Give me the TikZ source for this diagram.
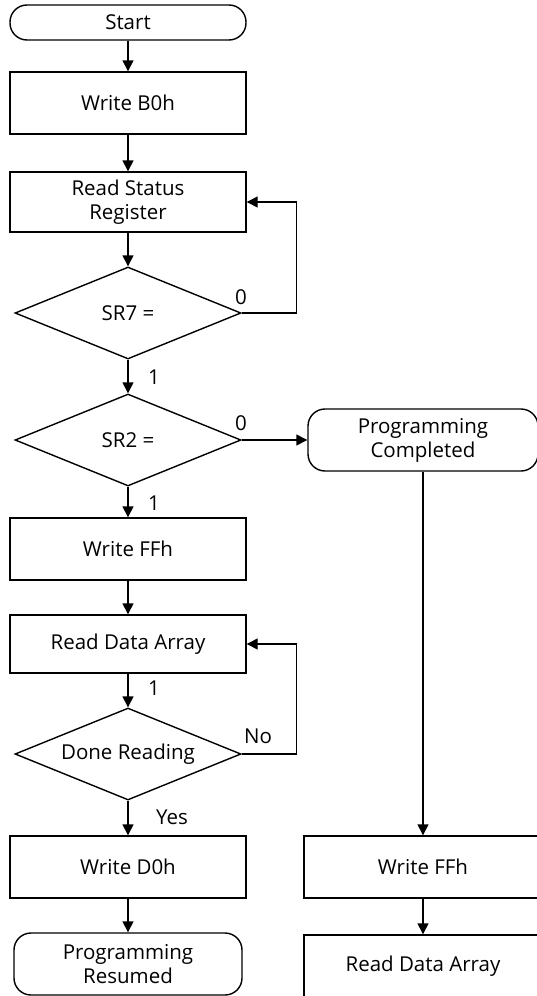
\documentclass[tikz,border=0pt]{standalone}
\usepackage{fontspec}
\setmainfont{Open Sans}
\usetikzlibrary{arrows.meta,shapes.geometric}

\begin{document}
\begin{tikzpicture}[x=1pt,y=-1pt,font=\fontsize{20.5}{24}\selectfont]
	\tikzstyle{box}=[rectangle,draw,line width=1.4pt,minimum width=236,minimum height=62,inner sep=0pt,align=center]
	\tikzstyle{term}=[box,rounded corners=17pt,minimum height=62]
	\tikzstyle{test}=[diamond,draw,line width=1.4pt,minimum width=226,minimum height=92,inner sep=0pt,aspect=2.45]
	\tikzstyle{flow}=[line width=1.4pt,-{Triangle[length=11pt,width=11pt]}]
	\tikzstyle{lbl}=[inner sep=0pt]
	\useasboundingbox (0,0) rectangle (537,996);
	\clip (0,0) rectangle (537,996);
	% main column
	\node (start)   at (128,22.5) [term,minimum height=35] {Start};
	\node (wb0)     at (128,103)  [box] {Write B0h};
	\node (readsr)  at (128,202)  [box,minimum height=60] {Read Status\\Register};
	\node (sr7)     at (128,313)  [test] {SR7 =};
	\node (sr2)     at (128,440)  [test] {SR2 =};
	\node (wff)     at (128,549)  [box] {Write FFh};
	\node (rda)     at (128,644)  [box,minimum height=58] {Read Data Array};
	\node (doneq)   at (128,754)  [test] {Done Reading};
	\node (wd0)     at (128,867)  [box] {Write D0h};
	\node (resumed) at (128,964)  [term,minimum height=62,minimum width=228] {Programming\\Resumed};
	% right column
	\node (compl)   at (423,440)  [term,minimum width=230] {Programming\\Completed};
	\node (rwff)    at (423,867)  [box,minimum width=238] {Write FFh};
	\node (rrda)    at (423,966)  [box,minimum width=238] {Read Data Array};
	% branch labels
	\node (l7zero)  at (241,297) [lbl] {0};
	\node (l7one)   at (154,377) [lbl] {1};
	\node (l2zero)  at (241,423) [lbl] {0};
	\node (l2one)   at (154,503) [lbl] {1};
	\node (lrone)   at (154,688) [lbl] {1};
	\node (lno)     at (258,736) [lbl] {No};
	\node (lyes)    at (172,817) [lbl] {Yes};
	% connectors
	\draw [flow] (start)   -- (wb0);
	\draw [flow] (wb0)     -- (readsr);
	\draw [flow] (readsr)  -- (sr7);
	\draw [flow] (sr7)     -- (sr2);
	\draw [flow] (sr2)     -- (wff);
	\draw [flow] (wff)     -- (rda);
	\draw [flow] (rda)     -- (doneq);
	\draw [flow] (doneq)   -- (wd0);
	\draw [flow] (wd0)     -- (resumed);
	\draw [flow] (sr7.east)   -- ++(55,0) |- (readsr.east);
	\draw [flow] (doneq.east) -- ++(55,0) |- (rda.east);
	\draw [flow] (sr2.east)   -- (compl.west);
	\draw [flow] (compl)   -- (rwff);
	\draw [flow] (rwff)    -- (rrda);
\end{tikzpicture}
\end{document}
